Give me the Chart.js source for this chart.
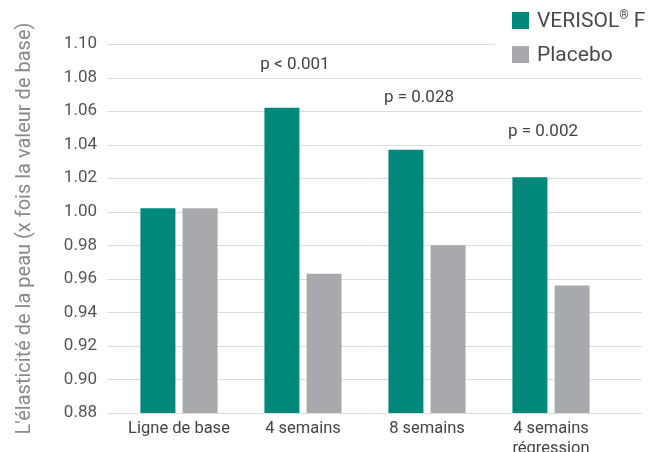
<!DOCTYPE html>
<html>
<head>
<meta charset="utf-8">
<script src="https://cdn.jsdelivr.net/npm/chart.js@4/dist/chart.umd.min.js"></script>
<style>
  html, body { margin: 0; padding: 0; background: #ffffff; }
  #wrap { position: relative; width: 648px; height: 452px; }
  #legend { position: absolute; left: 512px; top: 3px; font-family: Roboto, sans-serif; font-size: 21px; color: #4a4a4a; }
  .item { display: flex; align-items: center; height: 34px; }
  .box { width: 17px; height: 17px; margin-right: 8px; }
  sup { font-size: 12px; vertical-align: 8px; line-height: 0; }
</style>
</head>
<body>
<div id="wrap">
  <canvas id="c" width="648" height="452"></canvas>
  <div id="legend"></div>
</div>
<script>
const categories = [["Ligne de base"], ["4 semains"], ["8 semains"], ["4 semains", "régression"]];
const seriesNames = ["VERISOL\u00AE F", "Placebo"];
const verisol = [1.002, 1.062, 1.037, 1.0205];
const placebo = [1.002, 0.963, 0.980, 0.956];
const yMin = 0.88, yMax = 1.10, yStep = 0.02;
const pLabels = ["", "p < 0.001", "p = 0.028", "p = 0.002"];
const pLabelValues = [null, 1.0875, 1.068, 1.0475];
const colors = ["#00887a", "#a7a9ac"];

const gridPlugin = {
  id: 'customGrid',
  beforeDatasetsDraw(chart) {
    const ctx = chart.ctx, ys = chart.scales.y;
    ctx.save();
    ctx.strokeStyle = '#dcdcdc';
    ctx.lineWidth = 1;
    ys.ticks.forEach((t, i) => {
      const y = Math.round(ys.getPixelForValue(t.value)) + 0.5;
      const xr = (i === ys.ticks.length - 1) ? 495 : 642;
      ctx.beginPath();
      ctx.moveTo(107, y);
      ctx.lineTo(xr, y);
      ctx.stroke();
    });
    ctx.restore();
  },
  afterDatasetsDraw(chart) {
    const ctx = chart.ctx, xs = chart.scales.x, ys = chart.scales.y;
    ctx.save();
    ctx.font = '17px Roboto';
    ctx.fillStyle = '#444444';
    ctx.textAlign = 'center';
    ctx.textBaseline = 'middle';
    pLabels.forEach((txt, i) => {
      if (!txt) return;
      ctx.fillText(txt, xs.getPixelForValue(i) - 8, ys.getPixelForValue(pLabelValues[i]));
    });
    ctx.restore();
  }
};

const chart = new Chart(document.getElementById('c'), {
  type: 'bar',
  data: {
    labels: categories,
    datasets: [
      { label: seriesNames[0], data: verisol, backgroundColor: colors[0] },
      { label: seriesNames[1], data: placebo, backgroundColor: colors[1] }
    ]
  },
  options: {
    responsive: false,
    animation: false,
    devicePixelRatio: 1,
    layout: { padding: { top: 44, right: 35, left: 0, bottom: 0 } },
    datasets: { bar: { categoryPercentage: 0.68, barPercentage: 0.83 } },
    plugins: { legend: { display: false }, tooltip: { enabled: false } },
    scales: {
      x: {
        grid: { display: false, drawTicks: false },
        border: { display: false },
        ticks: { color: '#444444', font: { family: 'Roboto', size: 16.5, lineHeight: 1.2 }, padding: 6, maxRotation: 0 },
        afterFit(s) { s.height = 39; }
      },
      y: {
        min: yMin, max: yMax,
        grid: { display: false, drawTicks: false },
        border: { display: false },
        ticks: {
          stepSize: yStep,
          color: '#555555',
          font: { family: 'Roboto', size: 17 },
          padding: 20,
          callback: v => Number(v).toFixed(2)
        },
        title: {
          display: true,
          text: "L'élasticité de la peau (x fois la valeur de base)",
          color: '#8a8a8a',
          font: { family: 'Roboto', size: 20 },
          padding: { top: 13, bottom: 0 }
        },
        afterFit(s) { s.width = 117; }
      }
    }
  },
  plugins: [gridPlugin]
});

const legend = document.getElementById('legend');
chart.data.datasets.forEach((ds, i) => {
  const row = document.createElement('div');
  row.className = 'item';
  const box = document.createElement('div');
  box.className = 'box';
  box.style.background = ds.backgroundColor;
  const label = document.createElement('span');
  const parts = ds.label.split('\u00AE');
  label.appendChild(document.createTextNode(parts[0]));
  if (parts.length > 1) {
    const sup = document.createElement('sup');
    sup.textContent = '\u00AE';
    label.appendChild(sup);
    label.appendChild(document.createTextNode(parts[1]));
  }
  row.appendChild(box);
  row.appendChild(label);
  legend.appendChild(row);
});
</script>
</body>
</html>
